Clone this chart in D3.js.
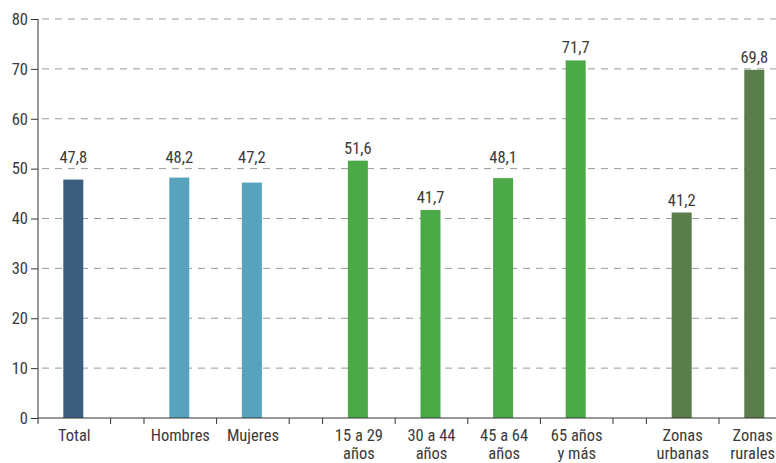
<!DOCTYPE html>
<html>
<head>
<meta charset="utf-8">
<script src="https://cdn.jsdelivr.net/npm/d3@7"></script>
<style>
  body { margin: 0; background: #fff; }
  svg text { font-family: "Roboto Condensed", "Liberation Sans Narrow", "DejaVu Sans Condensed", Roboto, sans-serif; font-weight: 400; fill: #3a3a3a; }
</style>
</head>
<body>
<div class="content"></div>
<script>
const categories = ['Total', 'Hombres', 'Mujeres', '15 a 29 años', '30 a 44 años', '45 a 64 años', '65 años y más', 'Zonas urbanas', 'Zonas rurales'];
const labelLines = [['Total'], ['Hombres'], ['Mujeres'], ['15 a 29', 'años'], ['30 a 44', 'años'], ['45 a 64', 'años'], ['65 años', 'y más'], ['Zonas', 'urbanas'], ['Zonas', 'rurales']];
const values = [47.8, 48.2, 47.2, 51.6, 41.7, 48.1, 71.7, 41.2, 69.8];
const groups = ['total', 'sexo', 'sexo', 'edad', 'edad', 'edad', 'edad', 'zona', 'zona'];
const yTicks = [0, 10, 20, 30, 40, 50, 60, 70, 80];

const groupColors = { total: '#3b5e7f', sexo: '#57a3bd', edad: '#4baa47', zona: '#5a7d4b' };

const W = 776, H = 463;
const plotLeft = 38, plotTop = 19, plotBottom = 418;
const bandUnits = 1, gapUnits = 0.46, unitPx = 72.6;
const fontSize = '16.5px';

const setUpChart = () => {
  // slot layout: bands with a narrow gap whenever the group changes
  let pos = 0;
  const slots = categories.map((c, i) => {
    if (i > 0 && groups[i] !== groups[i - 1]) pos += gapUnits;
    const s = { start: pos, end: pos + bandUnits };
    pos += bandUnits;
    return s;
  });
  const mid = (i) => (slots[i].start + slots[i].end) / 2;

  const xScale = d3.scaleLinear()
                   .domain([0, pos])
                   .range([plotLeft, plotLeft + pos * unitPx]);
  const yScale = d3.scaleLinear()
                   .domain([0, 80])
                   .range([plotBottom, plotTop]);

  const svg = d3.select('div.content')
                .append('svg')
                .attr('width', W)
                .attr('height', H);

  // grid
  svg.selectAll('line.grid')
     .data(yTicks.filter(t => t > 0))
     .enter()
     .append('line')
     .attr('x1', plotLeft)
     .attr('x2', W)
     .attr('y1', d => yScale(d))
     .attr('y2', d => yScale(d))
     .attr('stroke', '#999')
     .attr('stroke-width', 1)
     .attr('stroke-dasharray', '7,6')
     .attr('stroke-dashoffset', -4);

  // bars
  const barW = 20;
  svg.selectAll('rect.bar')
     .data(values)
     .enter()
     .append('rect')
     .attr('x', (d, i) => xScale(mid(i)) - barW / 2 - 1)
     .attr('y', d => yScale(d))
     .attr('width', barW)
     .attr('height', d => plotBottom - yScale(d))
     .attr('fill', (d, i) => groupColors[groups[i]]);

  // value labels, nudged above a gridline when they would sit on it
  const labelY = (v) => {
    let base = yScale(v) - 7;
    yTicks.forEach(t => {
      const g = yScale(t);
      if (t > 0 && g > base - 13 && g < base + 2) base = g - 6;
    });
    return base;
  };
  svg.selectAll('text.val')
     .data(values)
     .enter()
     .append('text')
     .attr('x', (d, i) => xScale(mid(i)) - 1)
     .attr('y', d => labelY(d))
     .attr('text-anchor', 'middle')
     .style('font-size', fontSize)
     .text(d => d3.format('.1f')(d).replace('.', ','));

  // y axis
  const yAxis = d3.axisLeft(yScale).tickValues(yTicks).tickSize(7).tickPadding(3);
  const gy = svg.append('g')
                .attr('transform', `translate(${plotLeft},0)`)
                .call(yAxis);
  gy.select('.domain').attr('d', `M0,${plotTop}V${plotBottom}`).attr('stroke', '#333');
  gy.selectAll('.tick line').attr('stroke', '#333');
  gy.selectAll('.tick text').style('font-size', fontSize).attr('fill', '#3a3a3a');

  // x axis: ticks at every band edge
  const edges = Array.from(new Set(slots.flatMap(s => [s.start, s.end])));
  svg.append('line')
     .attr('x1', plotLeft).attr('x2', W)
     .attr('y1', plotBottom).attr('y2', plotBottom)
     .attr('stroke', '#333');
  svg.selectAll('line.xtick')
     .data(edges)
     .enter()
     .append('line')
     .attr('x1', d => xScale(d)).attr('x2', d => xScale(d))
     .attr('y1', plotBottom).attr('y2', plotBottom + 6)
     .attr('stroke', '#333');

  const xl = svg.selectAll('text.cat')
                .data(labelLines)
                .enter()
                .append('text')
                .attr('text-anchor', 'middle')
                .style('font-size', fontSize);
  xl.selectAll('tspan')
    .data(d => d)
    .enter()
    .append('tspan')
    .attr('x', 0)
    .attr('dy', (d, i) => i === 0 ? 0 : 18)
    .text(d => d);
  // keep the last labels inside the picture
  xl.attr('transform', function (d, i) {
    const half = this.getBBox().width / 2;
    const cx = Math.min(xScale(mid(i)), W - half - 1);
    return `translate(${cx},${plotBottom + 23})`;
  });
};

setUpChart();
</script>
</body>
</html>
